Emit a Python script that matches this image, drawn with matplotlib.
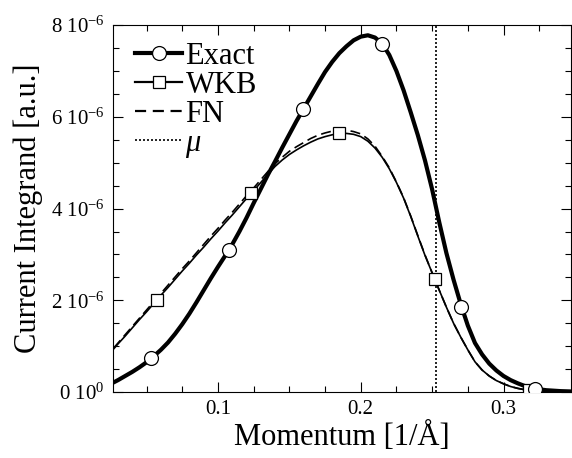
import numpy as np
import matplotlib
matplotlib.use("Agg")
import matplotlib.pyplot as plt
from matplotlib.ticker import MultipleLocator, FixedLocator

plt.rcParams['font.family'] = ['Liberation Serif', 'DejaVu Serif']
plt.rcParams['mathtext.fontset'] = 'custom'
plt.rcParams['mathtext.rm'] = 'Liberation Serif'
plt.rcParams['mathtext.it'] = 'Liberation Serif:italic'

# momentum samples [1/A], every 0.005 from 0.02 to 0.35
k = np.round(np.arange(0.020, 0.3501, 0.005), 3)

# current integrand, units of 1e-6
exact = [0.10, 0.18, 0.26, 0.35, 0.44, 0.54, 0.65, 0.78, 0.92, 1.08,
         1.27, 1.48, 1.71, 1.96, 2.22, 2.48, 2.73, 2.97, 3.22, 3.50,
         3.80, 4.12, 4.43, 4.74, 5.03, 5.33, 5.62, 5.91, 6.18, 6.45,
         6.72, 6.98, 7.20, 7.39, 7.54, 7.67, 7.75, 7.78, 7.73, 7.60,
         7.35, 7.00, 6.58, 6.10, 5.60, 5.05, 4.42, 3.70, 3.03, 2.45,
         1.92, 1.45, 1.07, 0.82, 0.62, 0.47, 0.35, 0.26, 0.19, 0.13,
         0.09, 0.06, 0.04, 0.03, 0.02, 0.015, 0.01]
wkb = [0.70, 0.87, 1.05, 1.22, 1.40, 1.58, 1.75, 1.93, 2.11, 2.28,
       2.46, 2.64, 2.81, 2.99, 3.16, 3.34, 3.51, 3.69, 3.86, 4.04,
       4.22, 4.39, 4.57, 4.75, 4.92, 5.06, 5.18, 5.28, 5.37, 5.45,
       5.52, 5.57, 5.61, 5.64, 5.64, 5.62, 5.57, 5.47, 5.32, 5.12,
       4.87, 4.57, 4.23, 3.83, 3.40, 2.98, 2.60, 2.22, 1.85, 1.50,
       1.20, 0.92, 0.66, 0.48, 0.35, 0.25, 0.18, 0.12, 0.08, 0.05,
       0.035, 0.025, 0.02, 0.015, 0.01, 0.008, 0.005]
fn = [0.72, 0.89, 1.07, 1.25, 1.43, 1.61, 1.79, 1.97, 2.15, 2.33,
      2.51, 2.69, 2.86, 3.04, 3.22, 3.40, 3.57, 3.75, 3.92, 4.10,
      4.28, 4.45, 4.63, 4.81, 4.98, 5.12, 5.25, 5.35, 5.44, 5.53,
      5.60, 5.65, 5.69, 5.72, 5.71, 5.68, 5.63, 5.52, 5.36, 5.14,
      4.89, 4.58, 4.24, 3.84, 3.41, 2.99, 2.60, 2.22, 1.85, 1.50,
      1.20, 0.92, 0.66, 0.48, 0.35, 0.25, 0.18, 0.12, 0.08, 0.05,
      0.035, 0.025, 0.02, 0.015, 0.01, 0.008, 0.005]

# marker positions
exact_mk_x = [0.053, 0.108, 0.1597, 0.215, 0.2704, 0.322]
exact_mk_y = [0.74, 3.09, 6.18, 7.60, 1.85, 0.06]
wkb_mk_x = [0.057, 0.123, 0.185, 0.2517, 0.318]
wkb_mk_y = [2.00, 4.33, 5.64, 2.47, 0.05]

mu = 0.253

ytick_vals = [0, 2, 4, 6, 8]
ytick_labels = [r'0 10$^{0}$', r'2 10$^{-6}$', r'4 10$^{-6}$', r'6 10$^{-6}$', r'8 10$^{-6}$']
xtick_vals = [0.1, 0.2, 0.3]
xtick_labels = ['0.1', '0.2', '0.3']

fig = plt.figure(figsize=(5.72, 4.58), dpi=100)
ax = fig.add_axes([0.1976, 0.144, 0.8, 0.801])

ax.plot(k, wkb, color='black', lw=1.2, zorder=2)
ax.plot(k, fn, color='black', lw=1.2, dashes=(6, 3), zorder=2)
ax.plot(k, exact, color='black', lw=3.0, zorder=3, solid_capstyle='round')
ax.axvline(mu, color='black', lw=1.2, ls=(0, (1.2, 1.2)), zorder=1)

ax.plot(wkb_mk_x, wkb_mk_y, ls='none', marker='s', ms=9, mfc='white',
        mec='black', mew=0.9, zorder=4)
ax.plot(exact_mk_x, exact_mk_y, ls='none', marker='o', ms=10, mfc='white',
        mec='black', mew=0.9, zorder=5)

# legend handles
h1, = ax.plot([], [], color='black', lw=3.0, marker='o', ms=10, mfc='white', mec='black', mew=0.9)
h2, = ax.plot([], [], color='black', lw=1.6, marker='s', ms=9, mfc='white', mec='black', mew=0.9)
h3, = ax.plot([], [], color='black', lw=1.6, dashes=(5, 3))
h4, = ax.plot([], [], color='black', lw=1.2, ls=(0, (1.2, 1.2)))
ax.legend([h1, h2, h3, h4], ['Exact', 'WKB', 'FN', r'$\mu$'], loc='upper left',
          frameon=False, fontsize=22, handlelength=1.55, handletextpad=0.1,
          labelspacing=0.0, borderaxespad=0.0, borderpad=0.0,
          bbox_to_anchor=(0.048, 0.955))

ax.set_xlim(0.0265, 0.347)
ax.set_ylim(0, 8)
ax.xaxis.set_major_locator(FixedLocator(xtick_vals))
ax.set_xticklabels(xtick_labels)
ax.xaxis.set_minor_locator(MultipleLocator(0.025))
ax.yaxis.set_major_locator(FixedLocator(ytick_vals))
ax.set_yticklabels(ytick_labels)
ax.yaxis.set_minor_locator(MultipleLocator(0.5))
ax.tick_params(which='both', direction='in', top=True, right=True, labelsize=15, width=0.8)
ax.tick_params(which='major', length=7, pad=6)
ax.tick_params(which='minor', length=4)
for s in ax.spines.values():
    s.set_linewidth(0.8)

ax.set_xlabel('Momentum [1/Å]', fontsize=22, labelpad=2)
ax.set_ylabel('Current Integrand [a.u.]', fontsize=22, labelpad=6)

fig.savefig('out.png', dpi=100)
